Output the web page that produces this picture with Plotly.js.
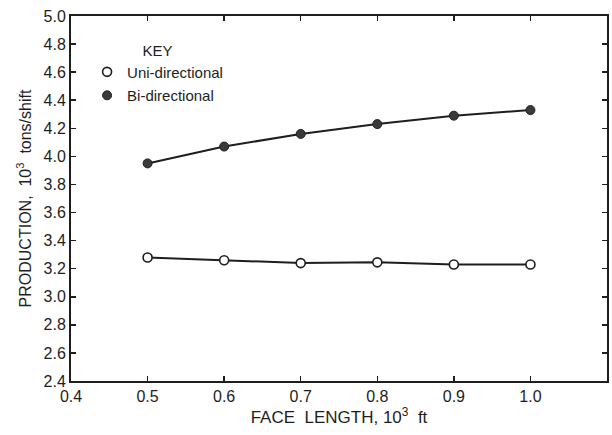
<!DOCTYPE html>
<html>
<head>
<meta charset="utf-8">
<script src="https://cdn.plot.ly/plotly-3.0.1.min.js"></script>
<style>html,body{margin:0;padding:0;background:#fff;}#chart{width:612px;height:435px;}</style>
</head>
<body>
<div id="chart"></div>
<script>
const faceLength = [0.5, 0.6, 0.7, 0.8, 0.9, 1.0];
const uniDirectional = [3.28, 3.26, 3.24, 3.245, 3.23, 3.23];
const biDirectional = [3.95, 4.07, 4.16, 4.23, 4.29, 4.33];
const seriesNames = ['Uni-directional', 'Bi-directional'];
const keyTitle = 'KEY';
const xTitle = 'FACE&nbsp;&nbsp;LENGTH, 10<sup>3</sup>&nbsp;&nbsp;ft';
const yTitle = 'PRODUCTION,&nbsp;&nbsp;10<sup>3</sup>&nbsp;&nbsp;tons/shift';

const ink = '#1e1e1e';
const fam = '"Liberation Sans", Arial, sans-serif';
const font = {family: fam, size: 15, color: ink};

const uniMarker = {symbol: 'circle', size: 9, color: '#ffffff', line: {color: ink, width: 1.6}};
const biMarker = {symbol: 'circle', size: 9, color: '#3a3a3a', line: {color: ink, width: 1}};

const traces = [
  {
    x: faceLength, y: uniDirectional, name: seriesNames[0], showlegend: false,
    mode: 'lines+markers', type: 'scatter',
    line: {color: ink, width: 2}, marker: uniMarker
  },
  {
    x: faceLength, y: biDirectional, name: seriesNames[1], showlegend: false,
    mode: 'lines+markers', type: 'scatter',
    line: {color: ink, width: 2}, marker: biMarker
  },
  // key entries (marker only, as in the printed key)
  {x: [null], y: [null], name: seriesNames[0], legendgroup: 'a', mode: 'markers', type: 'scatter', marker: uniMarker},
  {x: [null], y: [null], name: seriesNames[1], legendgroup: 'b', mode: 'markers', type: 'scatter', marker: biMarker}
];

const axisCommon = {
  showline: true, linewidth: 2, linecolor: ink, mirror: 'ticks',
  ticks: 'inside', ticklen: 5, tickwidth: 1.5, tickcolor: ink,
  showgrid: false, zeroline: false, tickformat: '.1f',
  tickfont: {family: fam, size: 16, color: ink}
};

const layout = {
  width: 612, height: 435,
  margin: {l: 71, r: 5, t: 16, b: 54},
  paper_bgcolor: '#ffffff', plot_bgcolor: '#ffffff',
  font: font,
  showlegend: true,
  legend: {
    x: 0.03, y: 0.945, xanchor: 'left', yanchor: 'top',
    bgcolor: 'rgba(0,0,0,0)', borderwidth: 0,
    traceorder: 'grouped', tracegroupgap: 1,
    itemwidth: 30,
    title: {text: keyTitle, side: 'top center', font: {family: fam, size: 15, color: ink}},
    font: {family: fam, size: 15, color: ink}
  },
  xaxis: Object.assign({}, axisCommon, {
    range: [0.4, 1.1], dtick: 0.1, tick0: 0.4,
    title: {text: xTitle, font: {family: fam, size: 17, color: ink}, standoff: 6}
  }),
  yaxis: Object.assign({}, axisCommon, {
    range: [2.4, 5.0], dtick: 0.2, tick0: 2.4,
    title: {text: yTitle, font: {family: fam, size: 16, color: ink}, standoff: 8}
  })
};

Plotly.newPlot('chart', traces, layout, {staticPlot: true, displayModeBar: false});
</script>
</body>
</html>
